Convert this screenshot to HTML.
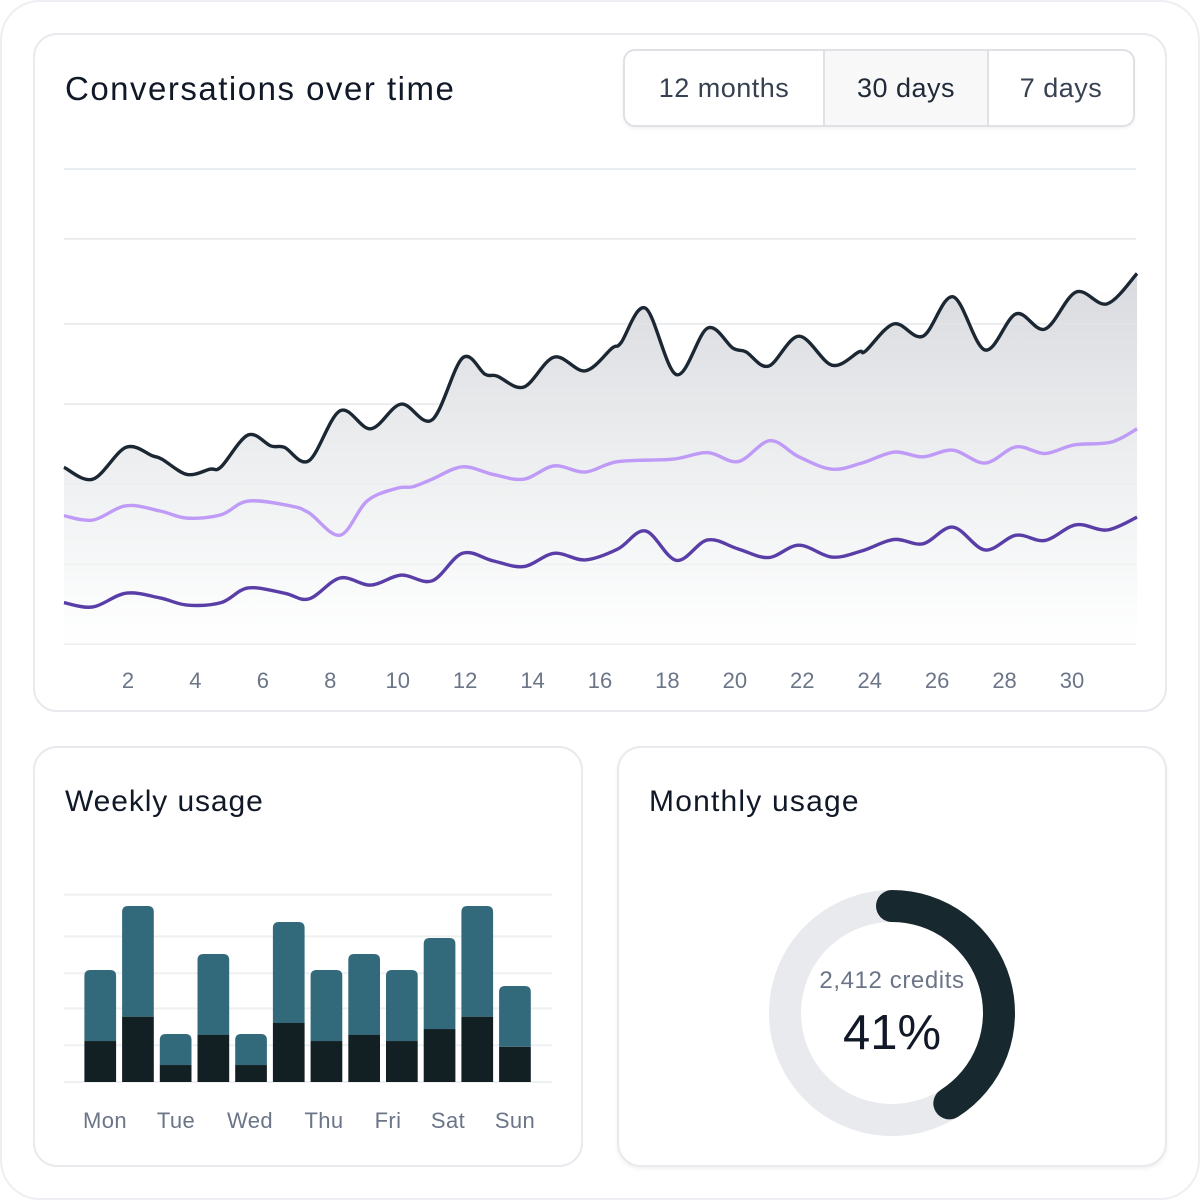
<!DOCTYPE html>
<html><head><meta charset="utf-8"><style>
*{box-sizing:border-box;margin:0;padding:0}
body{width:1200px;height:1200px;background:#fff;font-family:"Liberation Sans",sans-serif;position:relative;overflow:hidden}
.frame{position:absolute;left:0;top:0;width:1200px;height:1200px;border:2px solid #eceef1;border-radius:40px;background:#fff}
.card{position:absolute;background:#fff;border:2px solid #e8eaed;border-radius:24px}
.title{position:absolute;color:#111827;font-weight:500}
.seg{position:absolute;left:623px;top:49px;width:512px;height:78px;border:2px solid #dfe1e5;border-radius:12px;display:flex;overflow:hidden;box-shadow:0 2px 3px rgba(0,0,0,0.05)}
.seg div{display:flex;align-items:center;justify-content:center;font-size:27px;letter-spacing:0.5px;color:#374151;height:100%}
</style></head><body>
<div class="frame"></div>
<div class="card" style="left:33px;top:33px;width:1134px;height:679px"></div>
<div class="title" style="left:65px;top:70px;font-size:33px;letter-spacing:1.5px">Conversations over time</div>
<div class="seg">
  <div style="width:200px;border-right:2px solid #dfe1e5">12 months</div>
  <div style="width:164px;border-right:2px solid #dfe1e5;background:#f8f8f9;color:#1f2937">30 days</div>
  <div style="flex:1">7 days</div>
</div>
<svg id="line" width="1200" height="720" style="position:absolute;left:0;top:0"></svg>

<div class="card" style="left:33px;top:746px;width:550px;height:421px"></div>
<div class="title" style="left:65px;top:785px;font-size:30px;letter-spacing:0.9px">Weekly usage</div>
<div class="card" style="left:617px;top:746px;width:550px;height:421px;box-shadow:0 2px 4px rgba(0,0,0,0.06)"></div>
<div class="title" style="left:649px;top:785px;font-size:30px;letter-spacing:1.2px">Monthly usage</div>
<svg id="bars" width="1200" height="1200" style="position:absolute;left:0;top:0"></svg>
<svg width="1200" height="1200" style="position:absolute;left:0;top:0">
  <circle cx="892" cy="1013" r="107" fill="none" stroke="#e9eaee" stroke-width="32"/>
  <path id="arc" fill="none" stroke="#17292e" stroke-width="32" stroke-linecap="round"/>
  <text x="892" y="988" text-anchor="middle" font-size="24" letter-spacing="0.6" fill="#6b7588" font-family="Liberation Sans">2,412 credits</text>
  <text x="892" y="1049" text-anchor="middle" font-size="49" fill="#111827" font-family="Liberation Sans" font-weight="500">41%</text>
</svg>
<script>
const NS='http://www.w3.org/2000/svg';
const gridVals=[0,16.8,33.7,50.5,67.4,85.3,100];
const xTicks=[2,4,6,8,10,12,14,16,18,20,22,24,26,28,30];
const darkX=[0.1,0.96,1.94,2.73,3.01,3.75,4.43,4.76,5.56,6.24,6.64,7.37,8.29,9.2,10.1,11.02,11.92,12.59,12.95,13.74,14.64,15.56,16.36,16.62,17.35,18.27,19.19,19.94,20.33,21.0,21.9,22.88,23.68,23.88,24.72,25.58,26.47,27.42,28.34,29.2,30.12,31.04,31.93];
const darkY=[37.2,34.7,41.4,39.6,38.9,35.7,36.8,37.3,44.0,41.7,41.4,38.6,49.1,45.3,50.5,47.2,60.2,56.8,56.4,54.1,60.4,57.5,62.3,63.4,70.7,56.7,66.5,62.3,61.5,58.5,64.8,58.7,61.5,61.7,67.4,64.8,73.1,61.9,69.5,66.3,74.1,71.6,78.0];
const lightX=[0.1,0.96,1.94,2.95,3.75,4.76,5.56,6.8,7.37,8.29,9.09,9.98,10.45,11.02,11.92,12.83,13.74,14.64,15.56,16.53,18.15,19.19,20.1,21.04,21.9,22.88,23.77,24.72,25.58,26.47,27.42,28.34,29.2,30.06,31.16,31.93];
const lightY=[27.0,26.1,29.1,28.0,26.5,27.2,30.1,29.1,27.6,22.9,30.1,32.8,33.1,34.7,37.3,35.7,34.7,37.5,36.2,38.4,38.9,40.3,38.4,42.8,39.4,36.8,38.1,40.4,39.4,40.8,38.1,41.5,40.1,41.9,42.5,45.3];
const purpleX=[0.1,0.96,1.94,2.95,3.75,4.76,5.56,6.64,7.37,8.29,9.2,10.1,11.02,11.92,12.83,13.74,14.64,15.56,16.53,17.35,18.27,19.19,20.1,21.0,21.9,22.88,23.77,24.72,25.58,26.47,27.42,28.34,29.2,30.12,31.04,31.93];
const purpleY=[8.7,7.8,10.7,9.7,8.2,8.7,11.8,10.7,9.5,13.9,12.4,14.5,13.3,19.1,17.5,16.3,19.1,17.7,20.0,23.8,17.6,21.9,20.0,18.2,20.8,18.3,19.6,22.0,21.1,24.6,19.8,22.9,21.8,25.1,24.0,26.7];
const X=d=>128+(d-2)*33.714;
const Y=v=>644-v*4.75;
const svg=document.getElementById('line');
function el(tag,attrs,parent){const e=document.createElementNS(NS,tag);for(const k in attrs)e.setAttribute(k,attrs[k]);(parent||svg).appendChild(e);return e;}
const defs=el('defs',{});
const lg=el('linearGradient',{id:'fade',x1:0,y1:270,x2:0,y2:644,gradientUnits:'userSpaceOnUse'},defs);
el('stop',{offset:0,'stop-color':'#d9dadf','stop-opacity':1},lg);
el('stop',{offset:0.55,'stop-color':'#eef0f1','stop-opacity':1},lg);
el('stop',{offset:1,'stop-color':'#ffffff','stop-opacity':1},lg);
gridVals.forEach(v=>{const g=el('line',{x1:64,x2:1136,y1:Y(v),y2:Y(v),stroke:'#eef0f2','stroke-width':2});

});
function smooth(xs,ys){const p=xs.map((x,i)=>[X(x),Y(ys[i])]);let d='M'+p[0][0]+','+p[0][1];
for(let i=0;i<p.length-1;i++){const p0=p[i-1]||p[i],p1=p[i],p2=p[i+1],p3=p[i+2]||p2;
const c1=[p1[0]+(p2[0]-p0[0])/6,p1[1]+(p2[1]-p0[1])/6],c2=[p2[0]-(p3[0]-p1[0])/6,p2[1]-(p3[1]-p1[1])/6];
d+=`C${c1[0]},${c1[1]} ${c2[0]},${c2[1]} ${p2[0]},${p2[1]}`;}return d;}
const dd=smooth(darkX,darkY);
const area=el('path',{d:dd+`L${X(darkX[darkX.length-1])},${Y(0)}L${X(darkX[0])},${Y(0)}Z`,fill:'url(#fade)'});


gridVals.forEach(v=>{el('line',{x1:64,x2:1136,y1:Y(v),y2:Y(v),stroke:'#e6e8eb','stroke-width':1.5,'stroke-opacity':0.5});});
const s1=el('path',{d:dd,fill:'none',stroke:'#1b2733','stroke-width':3.4});


const s2=el('path',{d:smooth(lightX,lightY),fill:'none',stroke:'#bf9bf7','stroke-width':3.4});


const s3=el('path',{d:smooth(purpleX,purpleY),fill:'none',stroke:'#5a3ea8','stroke-width':3.4});


xTicks.forEach(t=>{const tx=el('text',{x:X(t),y:688,'text-anchor':'middle','font-size':22,fill:'#6b7588','font-family':'Liberation Sans'});tx.textContent=t;

});

const barTotals=[7,11,3,8,3,10,7,8,7,9,11,6];
const barBase=[2.56,4.08,1.06,2.94,1.06,3.69,2.56,2.94,2.56,3.31,4.08,2.2];
const barGrid=[0,2.3,4.6,6.8,9.1,11.7];
const dayLabels=['Mon','Tue','Wed','Thu','Fri','Sat','Sun'];
const bs=document.getElementById('bars');
const BX=i=>84.4+i*37.7, BY=v=>1082-v*16, BW=31.7;
function bel(tag,attrs){const e=document.createElementNS(NS,tag);for(const k in attrs)e.setAttribute(k,attrs[k]);bs.appendChild(e);return e;}
barGrid.forEach(v=>{const g=bel('line',{x1:64,x2:552,y1:BY(v),y2:BY(v),stroke:'#eef0f2','stroke-width':2});

});
barTotals.forEach((t,i)=>{const x=BX(i),yt=BY(t),yb=BY(barBase[i]),r=6;
const top=bel('path',{d:`M${x},${yb}V${yt+r}Q${x},${yt} ${x+r},${yt}H${x+BW-r}Q${x+BW},${yt} ${x+BW},${yt+r}V${yb}Z`,fill:'#336a7b'});


const bot=bel('rect',{x:x,y:yb,width:BW,height:BY(0)-yb,fill:'#132023'});

});
const labelX=[105,176,250,324,388,448,515];
dayLabels.forEach((d,i)=>{const t=bel('text',{x:labelX[i],y:1128,'text-anchor':'middle','font-size':22,'letter-spacing':0.4,fill:'#6b7588','font-family':'Liberation Sans'});t.textContent=d;

});

const pct=0.41;
const a=pct*2*Math.PI,cx=892,cy=1013,R=107;
document.getElementById('arc').setAttribute('d',`M${cx},${cy-R}A${R},${R} 0 0 1 ${cx+R*Math.sin(a)},${cy-R*Math.cos(a)}`);
</script>
</body></html>
